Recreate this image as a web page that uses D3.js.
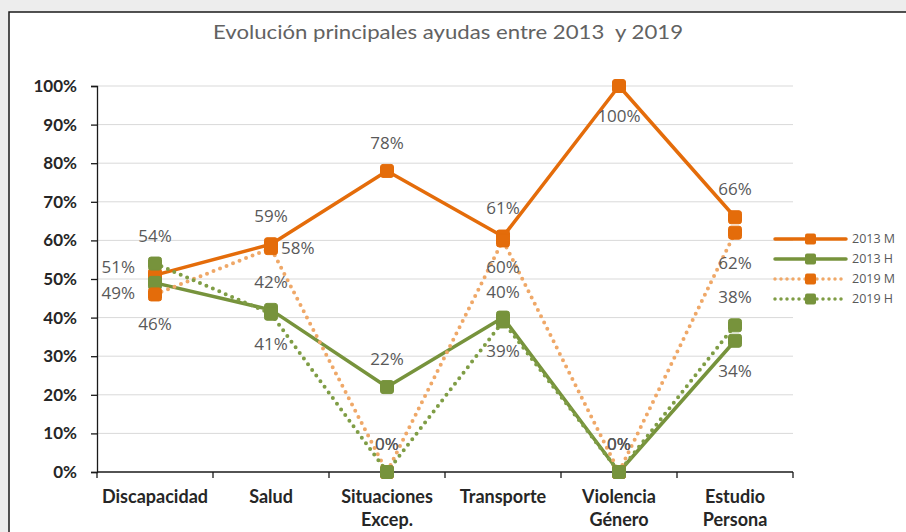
<!DOCTYPE html>
<html>
<head>
<meta charset="utf-8">
<script src="https://cdn.jsdelivr.net/npm/d3@7"></script>
<style>
  html, body { margin: 0; padding: 0; background: #ededed; }
  svg { display: block; }
</style>
</head>
<body>
<svg id="chart" width="906" height="532"></svg>
<script>
const categories = [["Discapacidad"], ["Salud"], ["Situaciones", "Excep."], ["Transporte"], ["Violencia", "Género"], ["Estudio", "Persona"]];
const seriesNames = ["2013 M", "2013 H", "2019 M", "2019 H"];
const m2013 = [0.51, 0.59, 0.78, 0.61, 1.00, 0.66];
const h2013 = [0.49, 0.42, 0.22, 0.40, 0.00, 0.34];
const m2019 = [0.46, 0.58, 0.00, 0.60, 0.00, 0.62];
const h2019 = [0.54, 0.41, 0.00, 0.39, 0.00, 0.38];
const yTicks = [0, 0.1, 0.2, 0.3, 0.4, 0.5, 0.6, 0.7, 0.8, 0.9, 1.0];
const titleText = "Evolución principales ayudas entre 2013  y 2019";
// label placement per series
const labelPos = [
  ["left", "above", "above", "above", "below", "above"],
  ["left", "above", "above", "above", "above", "below"],
  ["below", "right", "above", "below", "above", "below"],
  ["above", "below", "above", "below", "above", "above"]
];
// small vertical nudges (px) for crowded labels
const labelNudge = [
  [-8, 0, 0, 0, 0, 0],
  [10, 0, 0, 2, 0, 0],
  [0, 0, 0, -3, 0, 0],
  [0, 0, 0, 0, 0, 0]
];

const ORANGE = "#E46C0A", GREEN = "#77933C";
const styles = [
  { color: ORANGE, dash: null },
  { color: GREEN, dash: null },
  { color: "#EFA868", dash: "0 7", marker: ORANGE },
  { color: "#7F9D45", dash: "0 7", marker: GREEN }
];
const seriesData = [m2013, h2013, m2019, h2019];

const svg = d3.select("#chart");
// chart frame
svg.append("rect").attr("x", 9).attr("y", 12).attr("width", 920).attr("height", 540)
  .attr("fill", "#ffffff").attr("stroke", "#1a1a1a").attr("stroke-width", 1.5);

svg.append("text").attr("x", 448).attr("y", 39).attr("text-anchor", "middle")
  .attr("font-family", "Lato, 'Open Sans', sans-serif").attr("font-size", 20)
  .attr("textLength", 470).attr("lengthAdjust", "spacingAndGlyphs")
  .attr("fill", "#626262").style("white-space", "pre").text(titleText);

const pLeft = 97, pRight = 793, pTop = 86, pBottom = 472;
const x = d3.scaleBand().domain(d3.range(categories.length)).range([pLeft, pRight]);
const y = d3.scaleLinear().domain([0, 1]).range([pBottom, pTop]);

// gridlines
svg.append("g").selectAll("line").data(yTicks.filter(d => d > 0)).join("line")
  .attr("x1", pLeft).attr("x2", pRight).attr("y1", d => y(d)).attr("y2", d => y(d))
  .attr("stroke", "#d9d9d9").attr("stroke-width", 1);

// y axis
const yAxis = svg.append("g").attr("transform", `translate(${pLeft},0)`)
  .call(d3.axisLeft(y).tickValues(yTicks).tickFormat(d3.format(".0%")).tickSize(6).tickPadding(14));
yAxis.select(".domain").attr("stroke", "#1a1a1a").attr("stroke-width", 1.3);
yAxis.selectAll(".tick line").attr("stroke", "#1a1a1a").attr("stroke-width", 1.3);
yAxis.selectAll("text").attr("font-family", "Lato, sans-serif").attr("font-weight", "bold")
  .attr("font-size", 17).attr("fill", "#262626");

// x axis
const xAxisG = svg.append("g").attr("transform", `translate(0,${pBottom})`);
xAxisG.append("line").attr("x1", pLeft).attr("x2", pRight).attr("stroke", "#1a1a1a").attr("stroke-width", 1.3);
const bounds = d3.range(categories.length + 1).map(i => i < categories.length ? x(i) : x(i - 1) + x.bandwidth());
xAxisG.selectAll("line.tk").data(bounds).join("line").attr("class", "tk")
  .attr("x1", d => d).attr("x2", d => d).attr("y1", 0).attr("y2", 6)
  .attr("stroke", "#1a1a1a").attr("stroke-width", 1.3);
const xl = xAxisG.selectAll("text.xl").data(categories).join("text").attr("class", "xl")
  .attr("x", (d, i) => x(i) + x.bandwidth() / 2).attr("y", 31)
  .attr("text-anchor", "middle").attr("font-family", "Lato, sans-serif")
  .attr("font-weight", "bold").attr("font-size", 18).attr("fill", "#262626");
xl.selectAll("tspan").data(d => d).join("tspan")
  .attr("x", function() { return this.parentNode.getAttribute("x"); })
  .attr("dy", (d, i) => i === 0 ? 0 : 23).text(d => d);

const cx = i => x(i) + x.bandwidth() / 2;
const line = d3.line().x((d, i) => cx(i)).y(d => y(d));

// lines
seriesData.forEach((data, s) => {
  const st = styles[s];
  svg.append("path").datum(data).attr("d", line).attr("fill", "none")
    .attr("stroke", st.color).attr("stroke-width", st.dash ? 4 : 3.5)
    .attr("stroke-linecap", "round").attr("stroke-linejoin", "round")
    .attr("stroke-dasharray", st.dash);
});
// markers
seriesData.forEach((data, s) => {
  const st = styles[s];
  const mc = st.marker || st.color;
  svg.append("g").selectAll("rect").data(data).join("rect")
    .attr("x", (d, i) => cx(i) - 6.5).attr("y", d => y(d) - 6.5)
    .attr("width", 13).attr("height", 13).attr("rx", 2.5)
    .attr("fill", mc).attr("stroke", mc).attr("stroke-width", 1);
});
// data labels
seriesData.forEach((data, s) => {
  svg.append("g").selectAll("text").data(data).join("text")
    .attr("x", (d, i) => {
      const p = labelPos[s][i];
      return p === "left" ? cx(i) - 20 : p === "right" ? cx(i) + 10 : cx(i);
    })
    .attr("y", (d, i) => {
      const p = labelPos[s][i];
      const base = p === "above" ? y(d) - 28 : p === "below" ? y(d) + 30 : y(d);
      return base + labelNudge[s][i];
    })
    .attr("dy", "0.35em")
    .attr("text-anchor", (d, i) => {
      const p = labelPos[s][i];
      return p === "left" ? "end" : p === "right" ? "start" : "middle";
    })
    .attr("font-family", "'Open Sans', sans-serif").attr("font-size", 17)
    .attr("fill", "#595959").text(d => d3.format(".0%")(d));
});

// legend
const lg = svg.append("g");
seriesNames.forEach((name, s) => {
  const st = styles[s];
  const ly = 239 + s * 20;
  lg.append("line").attr("x1", 775).attr("x2", 846).attr("y1", ly).attr("y2", ly)
    .attr("stroke", st.color).attr("stroke-width", 3.5)
    .attr("stroke-linecap", "round").attr("stroke-dasharray", st.dash ? "0 6" : null);
  const mc = st.marker || st.color;
  lg.append("rect").attr("x", 805).attr("y", ly - 5.5).attr("width", 11).attr("height", 11)
    .attr("rx", 2).attr("fill", mc);
  lg.append("text").attr("x", 852).attr("y", ly).attr("dy", "0.35em")
    .attr("font-family", "'Open Sans', sans-serif").attr("font-size", 12.5)
    .attr("fill", "#595959").text(name);
});
</script>
</body>
</html>
